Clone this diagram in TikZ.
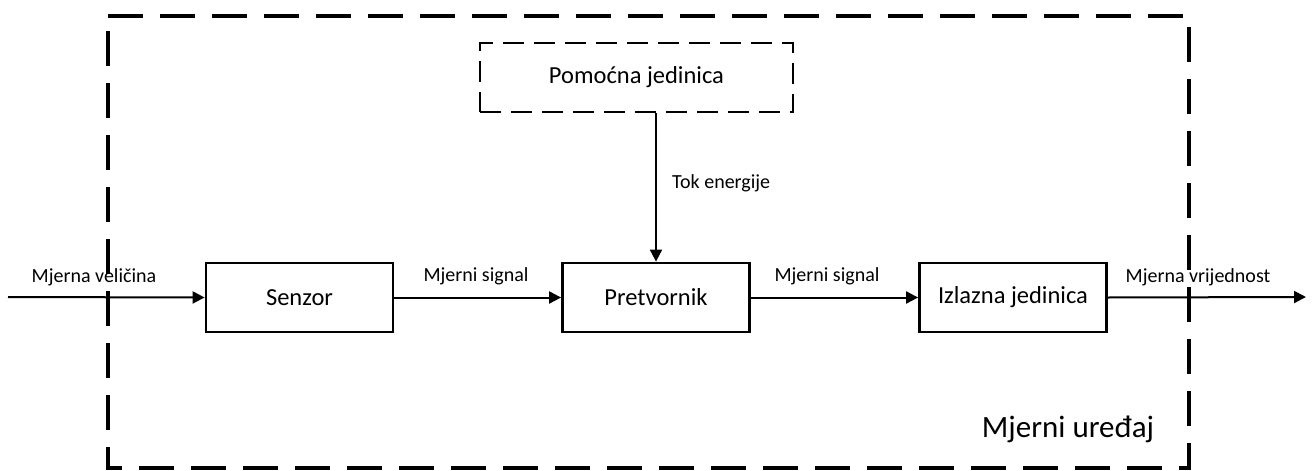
\documentclass[tikz,border=0pt]{standalone}
\usepackage{fontspec}
\setmainfont{Carlito}
\usetikzlibrary{arrows.meta}
\begin{document}
\begin{tikzpicture}[x=1pt,y=-1pt,
  blockbox/.style={draw,line width=2.8pt,minimum width=187pt,minimum height=69pt,inner sep=0pt,font=\fontsize{24.5}{28}\selectfont},
  auxbox/.style={draw,line width=2.2pt,dash pattern=on 21pt off 10pt,minimum width=313pt,minimum height=69pt,inner sep=0pt,font=\fontsize{24.5}{28}\selectfont},
  flow/.style={line width=2pt,-{Triangle[length=12pt,width=12pt]}},
  lbl/.style={anchor=base,font=\fontsize{20}{24}\selectfont,inner sep=0pt},
  frame/.style={line width=4pt,dash pattern=on 35pt off 17pt}]
\useasboundingbox (0,0) rectangle (1312,471);
% outer frame
\draw[frame] (108,16) -- (1189,16) -- (1189,468) -- (108,468) -- cycle;
% blocks
\node[blockbox] (senzor) at (299.5,297.5) {Senzor};
\node[blockbox] (pret) at (656,297.5) {Pretvornik};
\node[blockbox] (izl) at (1013,297.5) {Izlazna jedinica};
\node[auxbox] (pom) at (636.5,77.5) {Pomoćna jedinica};
% free ends
\coordinate (in) at (8,297);
\coordinate (out) at (1306,297);
% connectors
\draw[flow] (in) -- (senzor.west);
\draw[flow] (senzor.east) -- (pret.west);
\draw[flow] (pret.east) -- (izl.west);
\draw[flow] (izl.east) -- (out);
\draw[flow] (pom.south -| pret.north) -- (pret.north);
% labels
\node[lbl] (l1) at (94,282) {Mjerna veličina};
\node[lbl] (l2) at (476,281) {Mjerni signal};
\node[lbl] (l3) at (827,281) {Mjerni signal};
\node[lbl] (l4) at (1198,282) {Mjerna vrijednost};
\node[lbl,anchor=base west] (l5) at (672,188) {Tok energije};
\node[anchor=base,inner sep=0pt,font=\fontsize{31}{36}\selectfont] (dev) at (1068,437) {Mjerni uređaj};
\end{tikzpicture}
\end{document}
